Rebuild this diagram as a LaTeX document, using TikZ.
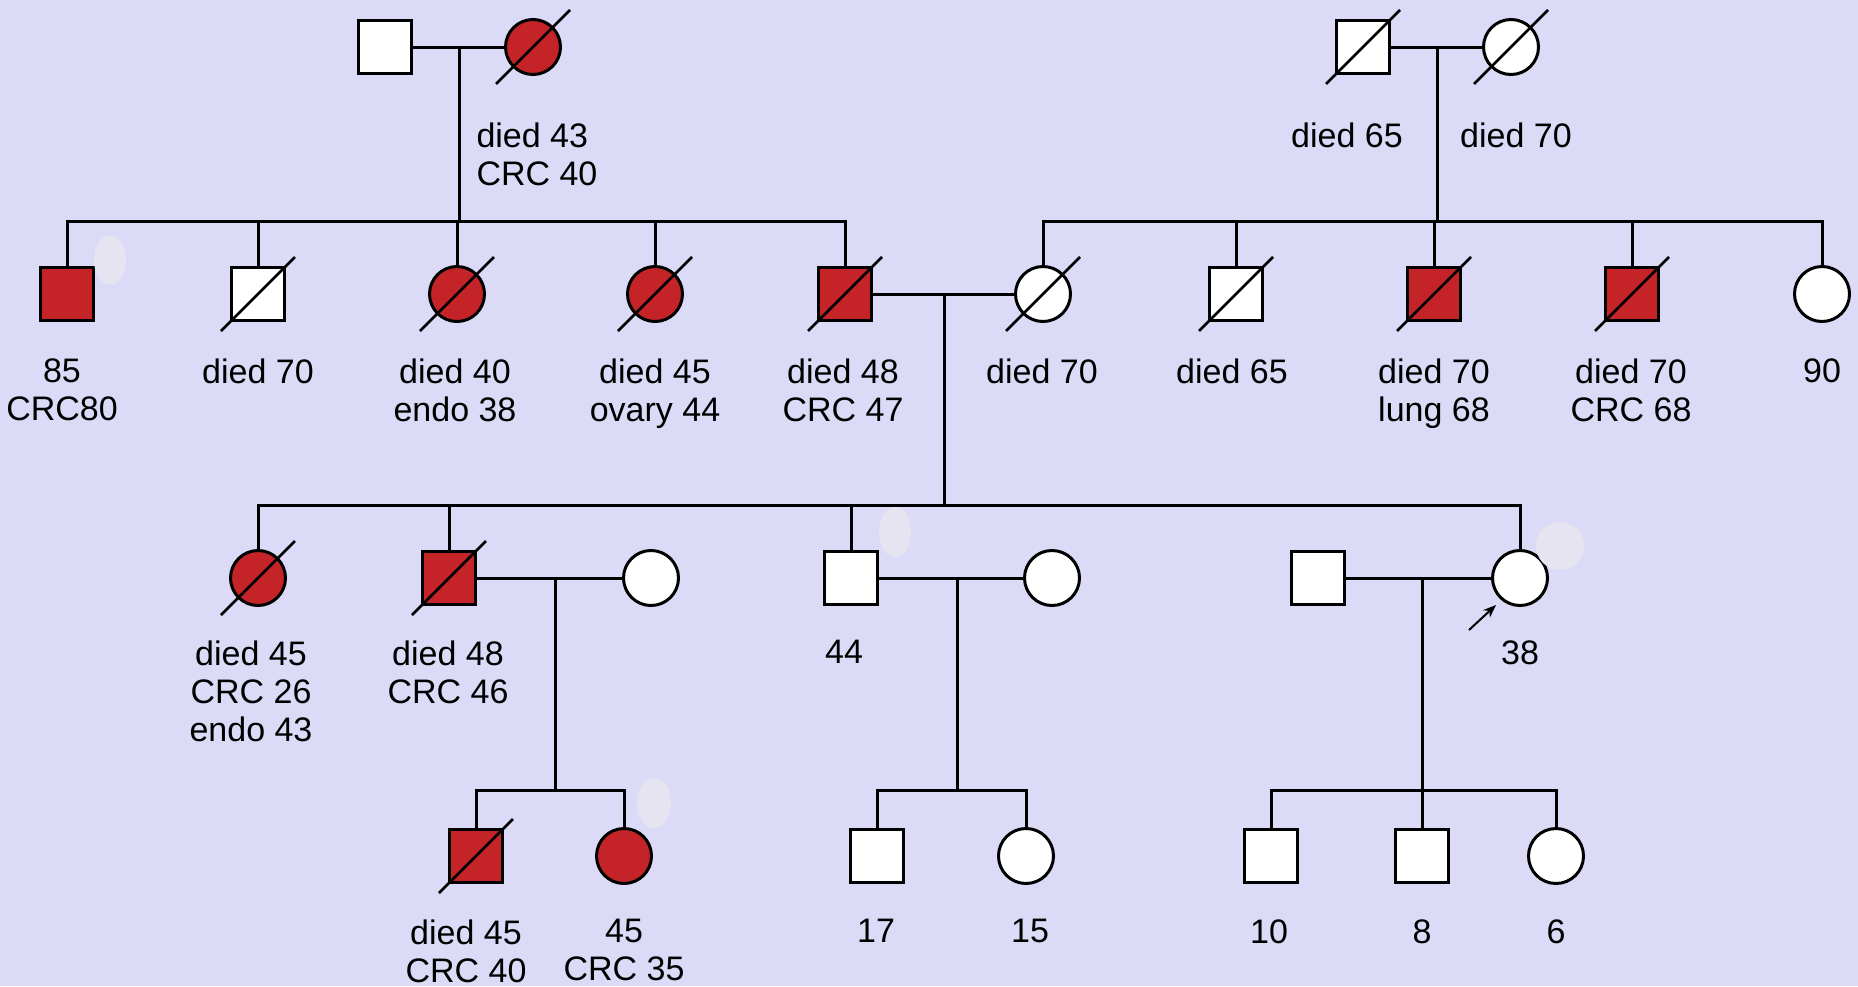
\documentclass[tikz,border=0pt]{standalone}
\usepackage{fontspec}
\setmainfont{Liberation Sans}
\usetikzlibrary{calc,arrows.meta}
\definecolor{bgc}{RGB}{219,219,247}
\definecolor{affc}{RGB}{196,36,40}
\definecolor{blobc}{RGB}{230,228,240}
\newcommand\dslash[1]{\draw[slashline] ($(#1)+(-37,37)$) -- ($(#1)+(37,-37)$);}
\begin{document}
\begin{tikzpicture}[x=1pt,y=-1pt,line width=3pt,
  male/.style={draw=black,line width=3pt,fill=white,rectangle,minimum size=53pt,inner sep=0pt},
  female/.style={draw=black,line width=3pt,fill=white,circle,minimum size=55pt,inner sep=0pt},
  aff/.style={fill=affc},
  lbl/.style={font=\fontsize{34}{38}\selectfont,align=center,anchor=north,inner sep=0pt},
  slashline/.style={line width=2.6pt},
  blob/.style={fill=blobc,draw=none}]
\fill[bgc] (0,0) rectangle (1858,986);
\useasboundingbox (0,0) rectangle (1858,986);

% Generation I
\node[male] (I1) at (385,47) {};
\node[female,aff] (I2) at (533,47) {};
\node[male] (I3) at (1363,47) {};
\node[female] (I4) at (1511,47) {};

% Generation II
\node[male,aff] (II1) at (67,294) {};
\node[male] (II2) at (258,294) {};
\node[female,aff] (II3) at (457,294) {};
\node[female,aff] (II4) at (655,294) {};
\node[male,aff] (II5) at (845,294) {};
\node[female] (II6) at (1043,294) {};
\node[male] (II7) at (1236,294) {};
\node[male,aff] (II8) at (1434,294) {};
\node[male,aff] (II9) at (1632,294) {};
\node[female] (II10) at (1822,294) {};

% Generation III
\node[female,aff] (III1) at (258,578) {};
\node[male,aff] (III2) at (449,578) {};
\node[female] (III3) at (651,578) {};
\node[male] (III4) at (851,578) {};
\node[female] (III5) at (1052,578) {};
\node[male] (III6) at (1318,578) {};
\node[female] (III7) at (1520,578) {};

% Generation IV
\node[male,aff] (IV1) at (476,856) {};
\node[female,aff] (IV2) at (624,856) {};
\node[male] (IV3) at (877,856) {};
\node[female] (IV4) at (1026,856) {};
\node[male] (IV5) at (1271,856) {};
\node[male] (IV6) at (1422,856) {};
\node[female] (IV7) at (1556,856) {};

% marriages
\draw (I1) -- (I2);
\draw (I3) -- (I4);
\draw (II5) -- (II6);
\draw (III2) -- (III3);
\draw (III4) -- (III5);
\draw (III6) -- (III7);
\coordinate (m1) at ($(I1)!0.5!(I2)$);
\coordinate (m2) at ($(I3)!0.5!(I4)$);
\coordinate (m3) at ($(II5)!0.5!(II6)$);
\coordinate (m4) at ($(III2)!0.5!(III3)+(5,0)$);
\coordinate (m5) at ($(III4)!0.5!(III5)+(6,0)$);
\coordinate (m6) at (IV6 |- III6);

% sibships
\coordinate (s1) at (m1 |- 0,221);
\coordinate (s2) at (m2 |- 0,221);
\coordinate (s3) at (m3 |- 0,505);
\coordinate (s4) at (m4 |- 0,790);
\coordinate (s5) at (m5 |- 0,790);
\coordinate (s6) at (m6 |- 0,790);

\draw (m1) -- (s1);
\draw (II1.north) |- (s1) -| (II5.north);
\draw (II2.north) -- (II2.north |- s1);
\draw (II3.north) -- (II3.north |- s1);
\draw (II4.north) -- (II4.north |- s1);

\draw (m2) -- (s2);
\draw (II6.north) |- (s2) -| (II10.north);
\draw (II7.north) -- (II7.north |- s2);
\draw (II8.north) -- (II8.north |- s2);
\draw (II9.north) -- (II9.north |- s2);

\draw (m3) -- (s3);
\draw (III1.north) |- (s3) -| (III7.north);
\draw (III2.north) -- (III2.north |- s3);
\draw (III4.north) -- (III4.north |- s3);

\draw (m4) -- (s4);
\draw (IV1.north) |- (s4) -| (IV2.north);
\draw (m5) -- (s5);
\draw (IV3.north) |- (s5) -| (IV4.north);
\draw (m6) -- (IV6.north);
\draw (IV5.north) |- (s6) -| (IV7.north);

% deceased slashes
\dslash{I2}\dslash{I3}\dslash{I4}
\dslash{II2}\dslash{II3}\dslash{II4}\dslash{II5}\dslash{II6}\dslash{II7}\dslash{II8}\dslash{II9}
\dslash{III1}\dslash{III2}
\dslash{IV1}

% proband arrow
\coordinate (pa) at (1469,630);
\coordinate (pb) at (1496,605);
\draw[line width=2pt,-{Stealth[length=13pt,width=10pt]}] (pa) -- (pb);

% labels
\node[lbl,anchor=north west,align=left] (tI2) at (475,121) {died 43\\CRC 40};
\node[lbl] (tI3) at (1347,121) {died 65};
\node[lbl] (tI4) at (1516,121) {died 70};

\node[lbl] (tII1) at (62,357) {85\\CRC80};
\node[lbl] (tII2) at (258,357) {died 70};
\node[lbl] (tII3) at (455,357) {died 40\\endo 38};
\node[lbl] (tII4) at (655,357) {died 45\\ovary 44};
\node[lbl] (tII5) at (843,357) {died 48\\CRC 47};
\node[lbl] (tII6) at (1042,357) {died 70};
\node[lbl] (tII7) at (1232,357) {died 65};
\node[lbl] (tII8) at (1434,357) {died 70\\lung 68};
\node[lbl] (tII9) at (1631,357) {died 70\\CRC 68};
\node[lbl] (tII10) at (1822,357) {90};

\node[lbl] (tIII1) at (251,639) {died 45\\CRC 26\\endo 43};
\node[lbl] (tIII2) at (448,639) {died 48\\CRC 46};
\node[lbl] (tIII4) at (844,639) {44};
\node[lbl] (tIII7) at (1520,639) {38};

\node[lbl] (tIV1) at (466,918) {died 45\\CRC 40};
\node[lbl] (tIV2) at (624,918) {45\\CRC 35};
\node[lbl] (tIV3) at (876,918) {17};
\node[lbl] (tIV4) at (1030,918) {15};
\node[lbl] (tIV5) at (1269,918) {10};
\node[lbl] (tIV6) at (1422,918) {8};
\node[lbl] (tIV7) at (1556,918) {6};

% pale patches
\fill[blob] (110,260) ellipse [x radius=16, y radius=25];
\fill[blob] (895,532) ellipse [x radius=16, y radius=25];
\fill[blob] (654,803) ellipse [x radius=17, y radius=25];
\fill[blob] (1560,546) ellipse [x radius=24, y radius=24];
\end{tikzpicture}
\end{document}
